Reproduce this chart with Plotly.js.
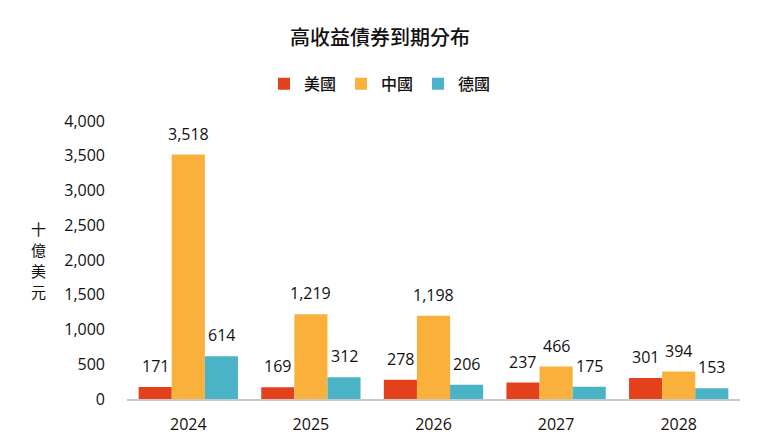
<!DOCTYPE html>
<html><head><meta charset="utf-8">
<script src="https://cdn.plot.ly/plotly-3.0.1.min.js"></script>
<style>html,body{margin:0;padding:0;background:#fff}#c{width:760px;height:446px}</style>
</head><body><div id="c"></div>
<script>
const categories = ['2024','2025','2026','2027','2028'];
const seriesNames = ['美國','中國','德國'];
const usValues = [171,169,278,237,301];
const cnValues = [3518,1219,1198,466,394];
const deValues = [614,312,206,175,153];
const yTicks = [0,500,1000,1500,2000,2500,3000,3500,4000];
const yTitleChars = ['十','億','美','元'];
const colors = ['#E2411C','#F9B13B','#4AB3C5'];
const FONT = 'Open Sans, Noto Sans CJK TC, sans-serif';
const CJK = 'Noto Sans CJK TC, sans-serif';

const allValues = [usValues, cnValues, deValues];
const traces = allValues.map((v,i)=>({
  type:'bar', name: seriesNames[i], x: categories, y: v,
  marker:{color: colors[i]}, hoverinfo:'none'
}));

const margin = {l:127, r:20, t:121, b:47};
const bargap = 0.19;
const plotW = 760 - margin.l - margin.r;
const catW = plotW / categories.length;
const barW = catW * (1 - bargap) / 3;

const annotations = [];
allValues.forEach((v,i)=>{
  v.forEach((val,j)=>{
    annotations.push({
      x: j, y: val, xref:'x', yref:'y',
      text: val.toLocaleString('en-US'), showarrow:false,
      xshift: (i-1)*barW, yanchor:'bottom', yshift: 8,
      font:{family:FONT, size:16, color:'#111'}
    });
  });
});
const step = 21;
yTitleChars.forEach((ch,k)=>{
  annotations.push({
    xref:'paper', yref:'paper', x:-0.145, y:0.5, xanchor:'center', yanchor:'middle',
    yshift: ((yTitleChars.length-1)/2 - k)*step,
    text: ch, showarrow:false, borderpad:0,
    font:{family:CJK, size:15, color:'#111'}
  });
});

const layout = {
  width:760, height:446, margin: margin,
  paper_bgcolor:'#fff', plot_bgcolor:'#fff',
  title:{text:'高收益債券到期分布', x:0.5, xref:'container', xanchor:'center', y:0.915, yanchor:'middle',
    font:{family:CJK, size:20, color:'#111', weight:500}},
  barmode:'group', bargap: bargap, bargroupgap: 0,
  showlegend:true,
  legend:{orientation:'h', x:0.5, xanchor:'center', xref:'container', y:0.812, yref:'container', yanchor:'middle',
    font:{family:CJK, size:16, color:'#111', weight:500}, itemwidth:30, traceorder:'normal'},
  xaxis:{type:'category', range:[-0.5,4.5], showgrid:false, showline:true, linecolor:'#c8c8c8', linewidth:1.5,
    ticks:'', ticklabelstandoff:10, tickfont:{family:FONT, size:16, color:'#111'}, fixedrange:true},
  yaxis:{range:[0,4000], tickvals:yTicks, tickformat:',', showgrid:false, zeroline:false, showline:false,
    ticks:'', ticklabelstandoff:21, tickfont:{family:FONT, size:16, color:'#111'}, fixedrange:true},
  annotations: annotations
};
Plotly.newPlot('c', traces, layout, {displayModeBar:false, staticPlot:true});
</script></body></html>
